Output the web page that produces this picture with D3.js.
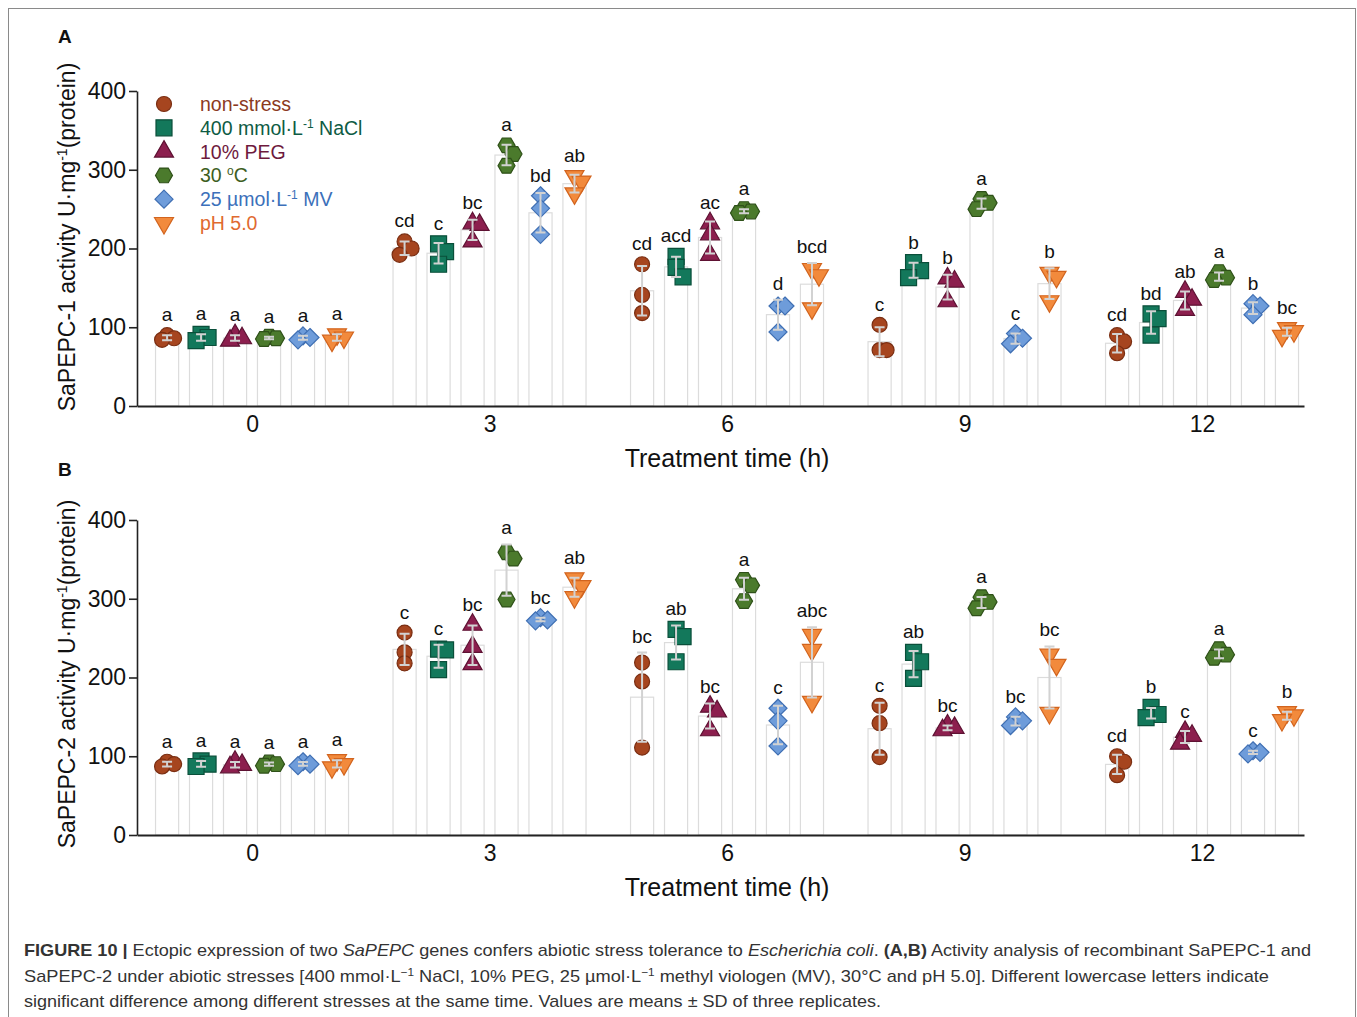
<!DOCTYPE html>
<meta charset="utf-8">
<script src="https://cdn.jsdelivr.net/npm/d3@7"></script>
<style>
  body { margin: 0; background: #fff; }
  svg text { font-family: "Liberation Sans", Arial, sans-serif; }
</style>
<svg id="fig" width="1357" height="1017"></svg>
<script>
// ---- data ----
const times = [0, 3, 6, 9, 12];
const stresses = ["non-stress", "NaCl", "PEG", "30C", "MV", "pH"];
const yTicks = [0, 100, 200, 300, 400];

// SaPEPC-1, three replicates per time point (0, 3, 6, 9, 12 h)
const pepc1NonStress = [[90, 86, 84], [209, 200, 192], [180, 141, 118], [103, 71, 71], [90, 82, 67]];
const pepc1NaCl      = [[91, 87, 83], [206, 196, 180], [190, 176, 164], [182, 172, 163], [117, 111, 90]];
const pepc1PEG       = [[90, 86, 83], [232, 230, 209], [232, 218, 192], [162, 158, 133], [145, 135, 122]];
const pepc1Heat      = [[88, 86, 85], [331, 320, 305], [250, 247, 245], [263, 258, 250], [170, 163, 160]];
const pepc1MV        = [[89, 87, 84], [267, 251, 218], [127, 127, 94], [92, 86, 79], [130, 127, 116]];
const pepc1PH        = [[91, 87, 83], [292, 285, 270], [174, 166, 124], [169, 164, 133], [99, 95, 89]];
const pepc1Letters = [
  ["a", "a", "a", "a", "a", "a"],
  ["cd", "c", "bc", "a", "bd", "ab"],
  ["cd", "acd", "ac", "a", "d", "bcd"],
  ["c", "b", "b", "a", "c", "b"],
  ["cd", "bd", "ab", "a", "b", "bc"]
];

// SaPEPC-2
const pepc2NonStress = [[93, 90, 87], [257, 232, 218], [219, 195, 111], [164, 142, 99], [100, 93, 76]];
const pepc2NaCl      = [[94, 90, 87], [236, 235, 210], [261, 252, 220], [232, 220, 199], [162, 153, 149]];
const pepc2PEG       = [[93, 89, 86], [267, 239, 217], [163, 157, 133], [139, 136, 133], [131, 126, 116]];
const pepc2Heat      = [[92, 90, 88], [359, 351, 299], [324, 317, 297], [302, 296, 288], [236, 229, 225]];
const pepc2MV        = [[93, 90, 88], [276, 273, 272], [161, 145, 113], [150, 145, 139], [107, 105, 103]];
const pepc2PH        = [[95, 90, 86], [326, 316, 302], [254, 235, 169], [229, 216, 155], [156, 152, 146]];
const pepc2Letters = [
  ["a", "a", "a", "a", "a", "a"],
  ["c", "c", "bc", "a", "bc", "ab"],
  ["bc", "ab", "bc", "a", "c", "abc"],
  ["c", "ab", "bc", "a", "bc", "bc"],
  ["cd", "b", "c", "a", "c", "b"]
];

// ---- styles ----
const fills   = ["#a6451f", "#13785b", "#8c1f4e", "#4b7a2c", "#6e9cda", "#f28a3c"];
const strokes = ["#7a2e12", "#0a4f3a", "#5e1233", "#2f5119", "#3f6fb3", "#d2641e"];
const textCol = ["#8b3a1e", "#0e5b44", "#6e1a3d", "#3d5e22", "#3c70ba", "#e06a30"];
const shapes  = ["circle", "square", "triangle", "hexagon", "diamond", "triangleDown"];

function shapePath(kind) {
  const p = d3.path();
  if (kind === "circle") { p.arc(0, 0, 7.5, 0, 2 * Math.PI); }
  else if (kind === "square") { p.rect(-8, -8, 16, 16); }
  else if (kind === "triangle" || kind === "triangleDown") {
    const s = kind === "triangle" ? 1 : -1;
    p.moveTo(0, -11 * s); p.lineTo(9.5, 5.5 * s); p.lineTo(-9.5, 5.5 * s); p.closePath();
  } else if (kind === "hexagon") {
    const r = 8.5;
    d3.range(6).forEach(i => {
      const a = i * Math.PI / 3;
      i ? p.lineTo(r * Math.cos(a), r * Math.sin(a)) : p.moveTo(r, 0);
    });
    p.closePath();
  } else if (kind === "diamond") {
    p.moveTo(0, -9); p.lineTo(9, 0); p.lineTo(0, 9); p.lineTo(-9, 0); p.closePath();
  }
  return p.toString();
}

const svg = d3.select("#fig");
svg.append("rect").attr("x", 8.5).attr("y", 8.5).attr("width", 1347).attr("height", 1030)
  .attr("fill", "none").attr("stroke", "#8a8a8a");

const x = d3.scaleLinear().domain([-1.453, 13.288]).range([137, 1304]);
const inner = d3.scaleBand().domain(stresses).range([-96.5, 96.5]).paddingInner(0.32);

// nudge overlapping replicate points sideways (small offsets, overlap allowed)
function spread(vals, y) {
  const placed = [];
  const cands = [0, 7, -5];
  vals.slice().sort((a, b) => b - a).forEach(v => {
    const py = y(v);
    const minD = c => placed.length ? d3.min(placed, q => Math.hypot(q.dx - c, q.py - py)) : Infinity;
    let dx = cands.find(c => minD(c) >= 11);
    if (dx === undefined) dx = cands.filter(c => !placed.some(q => q.dx === c))[0] ?? d3.greatest(cands, minD);
    placed.push({ v, py, dx });
  });
  return placed;
}

function drawPanel(cfg) {
  const g = svg.append("g");
  const y = d3.scaleLinear().domain([0, 400]).range([cfg.y0, cfg.y0 - 315]);
  const rows = [];
  cfg.series.forEach((ser, si) => {
    ser.forEach((vals, ti) => {
      const mean = d3.mean(vals), sd = d3.deviation(vals);
      rows.push({ si, ti, vals, mean, sd, cx: x(times[ti]) + inner(stresses[si]) + inner.bandwidth() / 2,
        letter: cfg.letters[ti][si] });
    });
  });

  g.selectAll("rect.bar").data(rows).join("rect").attr("class", "bar")
    .attr("x", d => d.cx - inner.bandwidth() / 2).attr("width", inner.bandwidth())
    .attr("y", d => y(d.mean)).attr("height", d => y(0) - y(d.mean))
    .attr("fill", "#fff").attr("stroke", "#dcdcdc").attr("stroke-width", 1.2);

  rows.forEach(d => {
    spread(d.vals, y).forEach(p => {
      g.append("path").attr("d", shapePath(shapes[d.si]))
        .attr("transform", `translate(${d.cx + p.dx},${p.py})`)
        .attr("fill", fills[d.si]).attr("stroke", strokes[d.si]).attr("stroke-width", 1.2);
    });
  });

  const eb = g.append("g").attr("stroke", "#d2d2d2").attr("stroke-width", 2).attr("fill", "none");
  rows.forEach(d => {
    const lo = y(d.mean - d.sd), hi = y(d.mean + d.sd);
    eb.append("path").attr("d", `M${d.cx},${lo}V${hi}M${d.cx - 5},${lo}H${d.cx + 5}M${d.cx - 5},${hi}H${d.cx + 5}`);
  });

  g.selectAll("text.let").data(rows).join("text").attr("class", "let")
    .attr("x", d => d.cx)
    .attr("y", d => Math.min(y(d3.max(d.vals)) - 14, y(d.mean + d.sd) - 10))
    .attr("text-anchor", "middle").attr("font-size", 19).attr("fill", "#111")
    .text(d => d.letter);

  // axes
  const xa = g.append("g").attr("transform", `translate(0,${cfg.y0})`)
    .call(d3.axisBottom(x).tickValues(times).tickSize(0).tickPadding(10).tickSizeOuter(0));
  xa.select(".domain").attr("stroke", "#222").attr("stroke-width", 2);
  xa.selectAll("text").attr("font-size", 23).attr("fill", "#111");

  const ya = g.append("g").attr("transform", "translate(137,0)")
    .call(d3.axisLeft(y).tickValues(yTicks).tickSize(8).tickPadding(3).tickSizeOuter(0));
  ya.select(".domain").attr("stroke", "#222").attr("stroke-width", 1.6);
  ya.selectAll(".tick line").attr("stroke", "#222").attr("stroke-width", 1.6);
  ya.selectAll("text").attr("font-size", 23).attr("fill", "#111");

  g.append("text").attr("x", x(6)).attr("y", cfg.y0 + 61).attr("text-anchor", "middle")
    .attr("font-size", 25).attr("fill", "#111").text("Treatment time (h)");

  const yl = g.append("text").attr("transform", `translate(75,${cfg.labelY}) rotate(-90)`)
    .attr("text-anchor", "middle").attr("font-size", 23).attr("fill", "#111");
  yl.append("tspan").text(cfg.gene + " activity U·mg");
  yl.append("tspan").attr("dy", -8).attr("font-size", 14).text("-1");
  yl.append("tspan").attr("dy", 8).text("(protein)");

  g.append("text").attr("x", 58).attr("y", cfg.tagY).attr("font-size", 19)
    .attr("font-weight", "bold").attr("fill", "#111").text(cfg.tag);
}

drawPanel({ y0: 406, tag: "A", tagY: 43, labelY: 237, gene: "SaPEPC-1",
  series: [pepc1NonStress, pepc1NaCl, pepc1PEG, pepc1Heat, pepc1MV, pepc1PH], letters: pepc1Letters });
drawPanel({ y0: 835, tag: "B", tagY: 476, labelY: 674, gene: "SaPEPC-2",
  series: [pepc2NonStress, pepc2NaCl, pepc2PEG, pepc2Heat, pepc2MV, pepc2PH], letters: pepc2Letters });

// legend (panel A)
const legendText = [
  [["non-stress"]],
  [["400 mmol·L"], ["-1", 1], [" NaCl"]],
  [["10% PEG"]],
  [["30 "], ["o", 1], ["C"]],
  [["25 µmol·L"], ["-1", 1], [" MV"]],
  [["pH 5.0"]]
];
const leg = svg.append("g");
legendText.forEach((parts, i) => {
  const ly = 104 + i * 23.8;
  leg.append("path").attr("d", shapePath(shapes[i])).attr("transform", `translate(164,${ly})`)
    .attr("fill", fills[i]).attr("stroke", strokes[i]).attr("stroke-width", 1.2);
  const t = leg.append("text").attr("x", 200).attr("y", ly + 7).attr("font-size", 19.5).attr("fill", textCol[i]);
  let up = false;
  parts.forEach(([s, sup]) => {
    const ts = t.append("tspan").text(s);
    if (sup && !up) { ts.attr("dy", -7).attr("font-size", 12); up = true; }
    else if (!sup && up) { ts.attr("dy", 7); up = false; }
  });
});

// caption
const capLines = [
  [[["FIGURE 10 | ", "b"]], [["Ectopic expression of two "]], [["SaPEPC", "i"]], [[" genes confers abiotic stress tolerance to "]],
   [["Escherichia coli", "i"]], [[". "]], [["(A,B)", "b"]], [[" Activity analysis of recombinant SaPEPC-1 and"]]],
  [[["SaPEPC-2 under abiotic stresses [400 mmol·L"]], [["−1", "s"]], [[" NaCl, 10% PEG, 25 µmol·L"]], [["−1", "s"]],
   [[" methyl viologen (MV), 30°C and pH 5.0]. Different lowercase letters indicate"]]],
  [[["significant difference among different stresses at the same time. Values are means ± SD of three replicates."]]]
];
const capWidths = [1287, 1245, 857];
capLines.forEach((line, li) => {
  const t = svg.append("text").attr("x", 24).attr("y", 956 + li * 25.5).attr("font-size", 17)
    .attr("fill", "#333").attr("textLength", capWidths[li]).attr("lengthAdjust", "spacingAndGlyphs");
  let up = false;
  line.forEach(([[s, st]]) => {
    const ts = t.append("tspan").text(s);
    if (st === "b") ts.attr("font-weight", "bold");
    if (st === "i") ts.attr("font-style", "italic");
    if (st === "s") { ts.attr("dy", -6).attr("font-size", 11); up = true; }
    else if (up) { ts.attr("dy", 6); up = false; }
  });
});
</script>
